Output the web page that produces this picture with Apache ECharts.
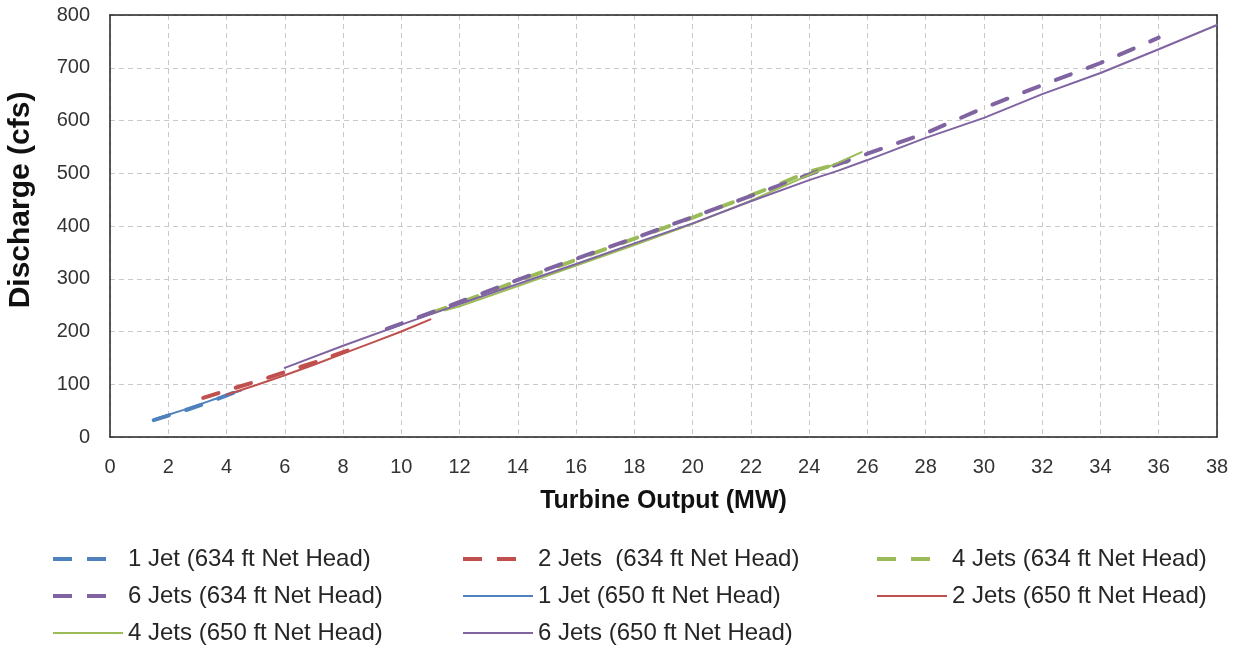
<!DOCTYPE html>
<html>
<head>
<meta charset="utf-8">
<script src="https://cdn.jsdelivr.net/npm/echarts@6/dist/echarts.min.js"></script>
<style>
  html, body { margin: 0; padding: 0; background: #fff; }
  #chart { width: 1241px; height: 647px; }
</style>
</head>
<body>
<div id="chart"></div>
<script>
// [MW, cfs] pairs
const jet1_634 = [[1.5, 32], [2.5, 49], [3.5, 68], [4.3, 85]];
const jets2_634 = [[3.2, 74], [4, 88], [5, 105], [6, 123], [7, 141], [8, 161], [8.5, 170]];
const jets4_634 = [[11, 235], [12, 254], [14, 296], [16, 336], [18, 376], [20, 416], [22, 458], [23, 480], [24, 503], [25.3, 522]];
const jets6_634 = [[9.5, 205], [10, 215], [12, 256], [14, 298], [16, 338], [18, 377], [20, 417], [22, 457], [24, 498], [26, 537], [28, 576], [30, 624], [32, 667], [34, 709], [36, 757]];
const jet1_650 = [[1.6, 35], [2.5, 51], [3.5, 70], [4.5, 88]];
const jets2_650 = [[4, 80], [5, 98], [6, 117], [7, 137], [8, 158], [9, 179], [10, 200], [11, 223]];
const jets4_650 = [[11.5, 240], [12, 248], [14, 286], [16, 325], [18, 364], [20, 404], [22, 448], [24, 497], [25, 520], [25.8, 540]];
const jets6_650 = [[6, 131], [8, 173], [10, 213], [12, 252], [14, 290], [16, 328], [18, 367], [20, 405], [22, 447], [24, 487], [25, 505], [26, 525], [28, 567], [30, 605], [32, 650], [34, 690], [36, 735], [38, 781]];

const names = [
  '1 Jet (634 ft Net Head)',
  '2 Jets  (634 ft Net Head)',
  '4 Jets (634 ft Net Head)',
  '6 Jets (634 ft Net Head)',
  '1 Jet (650 ft Net Head)',
  '2 Jets (650 ft Net Head)',
  '4 Jets (650 ft Net Head)',
  '6 Jets (650 ft Net Head)'
];
const colors = ['#4F81BD', '#C0504D', '#9BBB59', '#8064A2', '#4F81BD', '#C0504D', '#9BBB59', '#8064A2'];
const datasets = [jet1_634, jets2_634, jets4_634, jets6_634, jet1_650, jets2_650, jets4_650, jets6_650];

// legend icons like the Excel ones: two short dashes, or one long thin line
const dashIcon = 'path://M0,0H19V4H0Z M34,0H53V4H34Z M70,0H70.01V4H70Z';
const solidIcon = 'path://M0,1.1H70V2.9H0Z M0,0H0.01V4H0Z';

const series = datasets.map((d, i) => {
  const dashed = i < 4;
  return {
    name: names[i],
    type: 'line',
    data: d,
    symbol: 'none',
    z: dashed ? 2 : 3,
    lineStyle: {
      color: colors[i],
      width: dashed ? 4 : 2,
      type: dashed ? [16, 18] : 'solid',
      cap: 'round'
    },
    itemStyle: { color: colors[i] }
  };
});

const font = 'Liberation Sans, Arial';
const legendItem = i => ({ name: names[i], icon: i < 4 ? dashIcon : solidIcon });
const legendBase = {
  orient: 'vertical',
  itemWidth: 70,
  itemHeight: 4,
  itemGap: 13,
  padding: 0,
  textStyle: { fontFamily: font, fontSize: 24, color: '#262626' }
};

const chart = echarts.init(document.getElementById('chart'));
chart.setOption({
  animation: false,
  color: colors,
  legend: [
    Object.assign({}, legendBase, { left: 53, top: 547, data: [0, 3, 6].map(legendItem) }),
    Object.assign({}, legendBase, { left: 463, top: 547, data: [1, 4, 7].map(legendItem) }),
    Object.assign({}, legendBase, { left: 877, top: 547, data: [2, 5].map(legendItem) })
  ],
  grid: { left: 110, right: 24, top: 15, bottom: 210, outerBoundsMode: 'none' },
  xAxis: [{
    type: 'value',
    min: 0, max: 38, interval: 2,
    name: 'Turbine Output (MW)',
    nameLocation: 'middle',
    nameGap: 52,
    nameTextStyle: { fontFamily: font, fontSize: 25, fontWeight: 'bold', color: '#111' },
    axisLine: { show: true, onZero: false, lineStyle: { color: '#222', width: 1.5 } },
    axisTick: { show: false },
    axisLabel: { fontFamily: font, fontSize: 20, color: '#333', margin: 20 },
    splitLine: { show: true, lineStyle: { color: '#c8c8c8', type: [5, 4] } }
  }, {
    type: 'value', position: 'top',
    min: 0, max: 38, interval: 2,
    axisLine: { show: true, onZero: false, lineStyle: { color: '#222', width: 1.5 } },
    axisTick: { show: false }, axisLabel: { show: false }, splitLine: { show: false }
  }],
  yAxis: [{
    type: 'value',
    min: 0, max: 800, interval: 100,
    name: 'Discharge (cfs)',
    nameLocation: 'middle',
    nameGap: 74,
    nameTextStyle: { fontFamily: font, fontSize: 30, fontWeight: 'bold', color: '#111', padding: [0, 0, 0, 52] },
    axisLine: { show: true, onZero: false, lineStyle: { color: '#222', width: 1.5 } },
    axisTick: { show: false },
    axisLabel: { fontFamily: font, fontSize: 20, color: '#333', margin: 20 },
    splitLine: { show: true, lineStyle: { color: '#c8c8c8', type: [5, 4] } }
  }, {
    type: 'value', position: 'right',
    min: 0, max: 800, interval: 100,
    axisLine: { show: true, onZero: false, lineStyle: { color: '#222', width: 1.5 } },
    axisTick: { show: false }, axisLabel: { show: false }, splitLine: { show: false }
  }],
  series: series
});
</script>
</body>
</html>
